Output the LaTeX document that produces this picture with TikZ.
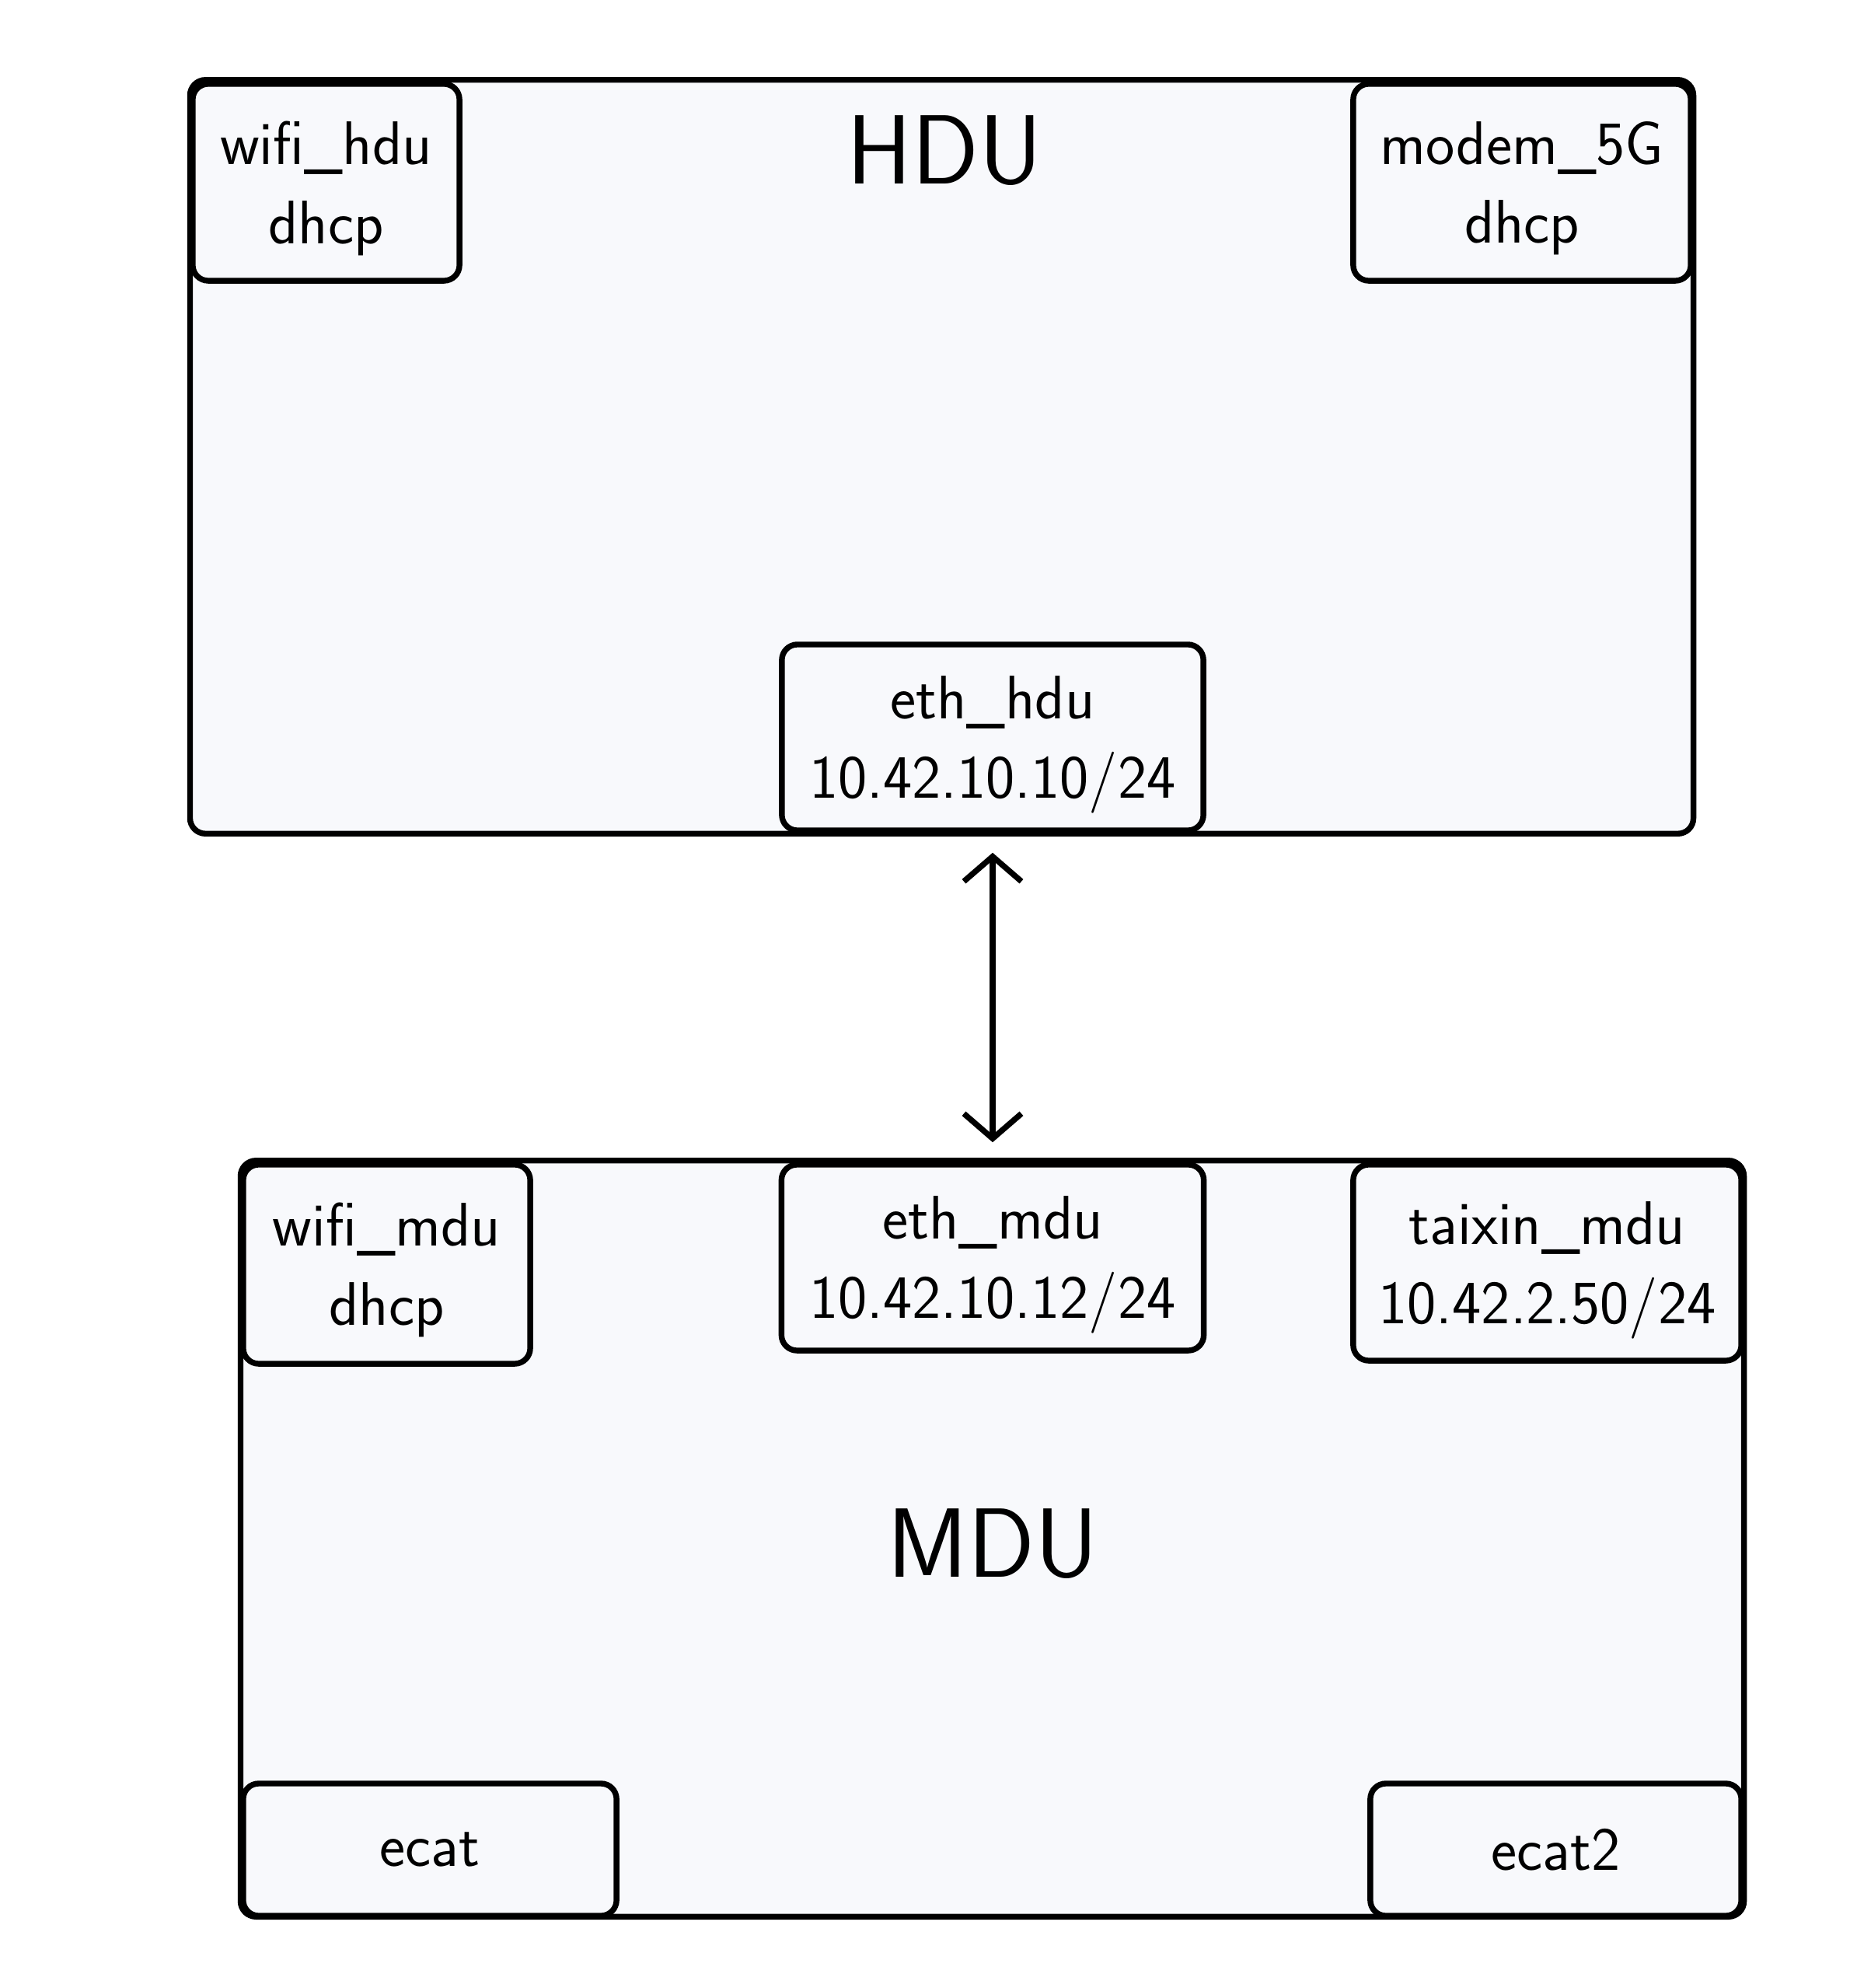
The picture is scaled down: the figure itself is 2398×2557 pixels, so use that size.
\documentclass[tikz,border=0pt]{standalone}
\usepackage{tikz}
\usetikzlibrary{positioning,arrows.meta}
\definecolor{unitfill}{HTML}{F8F9FC}

\begin{document}
\begin{tikzpicture}[
      x=0.01cm, y=-0.01cm,
      >={Straight Barb[length=3.2mm,width=7.4mm]},
      unit/.style={
        shape=rectangle,
        rounded corners=2mm,
        draw=black,
        fill=unitfill,
        line width=2.1pt,
      },
      iface/.style={
        unit,
        inner sep=0pt,
        align=center,
        text depth=-0.26cm,
        font=\sffamily\fontsize{22.5}{29}\selectfont,
      },
      title/.style={font=\sffamily\fontsize{36}{40}\selectfont},
    ]
      \useasboundingbox (0,0) rectangle (2398,2557);
      \node[unit, minimum width=19.33cm, minimum height=9.69cm] (hdu) at (1211.5,587.5) {};
      \node[title] (hdutitle) at (1215,194) {HDU};
      \node[iface, minimum width=3.43cm, minimum height=2.53cm] (wifihdu) at (419.5,234.5) {wifi\_hdu\\dhcp};
      \node[iface, minimum width=4.34cm, minimum height=2.53cm] (modem) at (1958,234.5) {modem\_5G\\dhcp};
      \node[iface, minimum width=5.42cm, minimum height=2.39cm] (ethhdu) at (1277,948.5) {eth\_hdu\\10.42.10.10/24};
      \node[unit, minimum width=19.33cm, minimum height=9.72cm] (mdu) at (1276.5,1979) {};
      \node[title] (mdutitle) at (1277,1986) {MDU};
      \node[iface, minimum width=3.69cm, minimum height=2.56cm] (wifimdu) at (497.5,1626) {wifi\_mdu\\dhcp};
      \node[iface, minimum width=5.43cm, minimum height=2.39cm] (ethmdu) at (1277,1617.5) {eth\_mdu\\10.42.10.12/24};
      \node[iface, minimum width=4.99cm, minimum height=2.52cm] (taixin) at (1990.5,1624) {taixin\_mdu\\10.42.2.50/24};
      \node[iface, minimum width=4.80cm, minimum height=1.70cm] (ecat) at (553,2379) {ecat};
      \node[iface, minimum width=4.77cm, minimum height=1.70cm] (ecattwo) at (2001.5,2379) {ecat2};
      \draw[<->, line width=2.1pt, shorten <=0.25cm, shorten >=0.25cm] (ethhdu) -- (ethmdu);
    \end{tikzpicture}
\end{document}
